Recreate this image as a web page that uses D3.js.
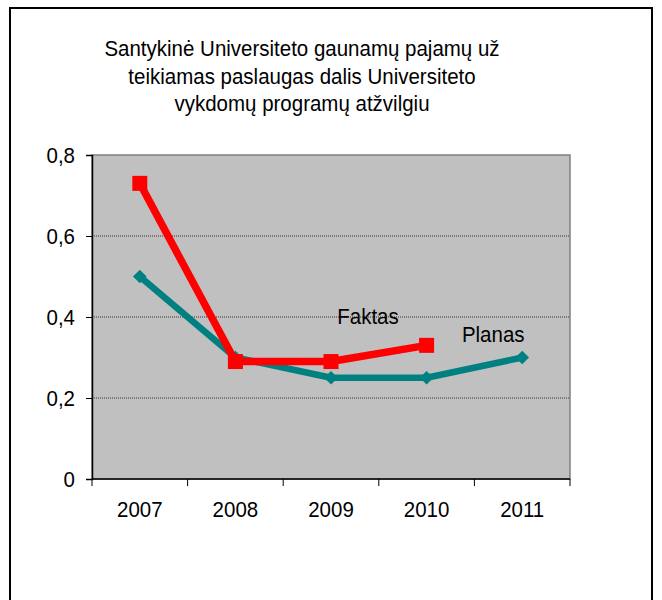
<!DOCTYPE html>
<html lang="lt">
<head>
    <meta charset="UTF-8">
    <title>Santykinė Universiteto gaunamų pajamų dalis</title>
    <script src="https://d3js.org/d3.v7.min.js"></script>
    <style>
        body {
            margin: 0;
            font-family: "Liberation Sans", Arial, sans-serif;
            background: white;
        }
        svg text {
            fill: black;
            font-family: "Liberation Sans", Arial, sans-serif;
            font-size: 20.5px;
        }
    </style>
</head>
<body>
    <script>
        // Chart data
        const years = ["2007", "2008", "2009", "2010", "2011"];
        const planas = [0.5, 0.3, 0.25, 0.25, 0.3];
        const faktas = [0.73, 0.29, 0.29, 0.33];
        const yTicks = [0, 0.2, 0.4, 0.6, 0.8];
        const titleLines = [
            "Santykinė Universiteto gaunamų pajamų už",
            "teikiamas paslaugas dalis Universiteto",
            "vykdomų programų atžvilgiu"
        ];

        const width = 662;
        const height = 600;
        const margin = {top: 155, right: 92, bottom: 121, left: 92};
        const plotWidth = width - margin.left - margin.right;
        const plotHeight = height - margin.top - margin.bottom;
        const stretch = 1.12; // text in the original is slightly tall

        const svg = d3.select("body")
            .append("svg")
            .attr("width", width)
            .attr("height", height);

        // helper: text placed at (x, y) with a little vertical stretch
        function addText(parent, x, y, str, anchor) {
            return parent.append("text")
                .attr("transform", `translate(${x}, ${y}) scale(1, ${stretch})`)
                .attr("text-anchor", anchor || "middle")
                .text(str);
        }

        // Outer frame
        svg.append("rect")
            .attr("x", 10)
            .attr("y", 8)
            .attr("width", 642)
            .attr("height", 620)
            .attr("fill", "white")
            .attr("stroke", "black")
            .attr("stroke-width", 2);

        // Title
        titleLines.forEach((line, i) => addText(svg, 302, 56 + i * 27.5, line));

        const plot = svg.append("g")
            .attr("transform", `translate(${margin.left}, ${margin.top})`);

        const xScale = d3.scaleBand()
            .domain(years)
            .range([0, plotWidth]);

        const yScale = d3.scaleLinear()
            .domain([0, 0.8])
            .range([plotHeight, 0]);

        // Plot area background
        plot.append("rect")
            .attr("width", plotWidth)
            .attr("height", plotHeight)
            .attr("fill", "#c0c0c0")
            .attr("stroke", "#808080")
            .attr("stroke-width", 1.5);

        // Gridlines
        plot.selectAll(".grid")
            .data(yTicks.filter(t => t > 0 && t < 0.8))
            .enter()
            .append("line")
            .attr("x1", 0)
            .attr("x2", plotWidth)
            .attr("y1", d => yScale(d))
            .attr("y2", d => yScale(d))
            .attr("stroke", "#333")
            .attr("stroke-width", 1)
            .attr("stroke-dasharray", "1,1");

        // Y axis
        const yAxis = plot.append("g")
            .call(d3.axisLeft(yScale)
                .tickValues(yTicks)
                .tickSize(6)
                .tickFormat(""));
        yAxis.select(".domain").attr("stroke", "black").attr("stroke-width", 1.5);
        yAxis.selectAll("line").attr("stroke", "black");
        yTicks.forEach(t => {
            const label = t === 0 ? "0" : d3.format(".1f")(t).replace(".", ",");
            addText(plot, -17, yScale(t) + 7.5, label, "end");
        });

        // X axis (ticks at category boundaries)
        const xAxis = plot.append("g")
            .attr("transform", `translate(0, ${plotHeight})`);
        xAxis.append("line")
            .attr("x1", 0)
            .attr("x2", plotWidth)
            .attr("stroke", "black")
            .attr("stroke-width", 1.5);
        xAxis.selectAll(".xtick")
            .data(years.concat(["end"]))
            .enter()
            .append("line")
            .attr("x1", (d, i) => i * xScale.step())
            .attr("x2", (d, i) => i * xScale.step())
            .attr("y1", 0)
            .attr("y2", 7)
            .attr("stroke", "black");
        years.forEach(y => addText(xAxis, xScale(y) + xScale.bandwidth() / 2, 38, y));

        const cx = (d, i) => xScale(years[i]) + xScale.bandwidth() / 2;

        const line = d3.line()
            .x(cx)
            .y(d => yScale(d));

        // Planas series
        plot.append("path")
            .datum(planas)
            .attr("d", line)
            .attr("fill", "none")
            .attr("stroke", "#008080")
            .attr("stroke-width", 6.5)
            .attr("stroke-linejoin", "round");

        plot.selectAll(".diamond")
            .data(planas)
            .enter()
            .append("path")
            .attr("d", d3.symbol(d3.symbolDiamond2, 120))
            .attr("transform", (d, i) => `translate(${cx(d, i)}, ${yScale(d)})`)
            .attr("fill", "#008080");

        // Faktas series
        plot.append("path")
            .datum(faktas)
            .attr("d", line)
            .attr("fill", "none")
            .attr("stroke", "#ff0000")
            .attr("stroke-width", 7.5)
            .attr("stroke-linejoin", "round");

        plot.selectAll(".square")
            .data(faktas)
            .enter()
            .append("rect")
            .attr("x", (d, i) => cx(d, i) - 7.5)
            .attr("y", d => yScale(d) - 7.5)
            .attr("width", 15)
            .attr("height", 15)
            .attr("fill", "#ff0000");

        // Series labels
        addText(plot, xScale("2009") + xScale.bandwidth() / 2 + 37, yScale(0.4) + 7, "Faktas");
        addText(plot, xScale("2011") + xScale.bandwidth() / 2 - 29, yScale(0.355) + 7, "Planas");
    </script>
</body>
</html>
